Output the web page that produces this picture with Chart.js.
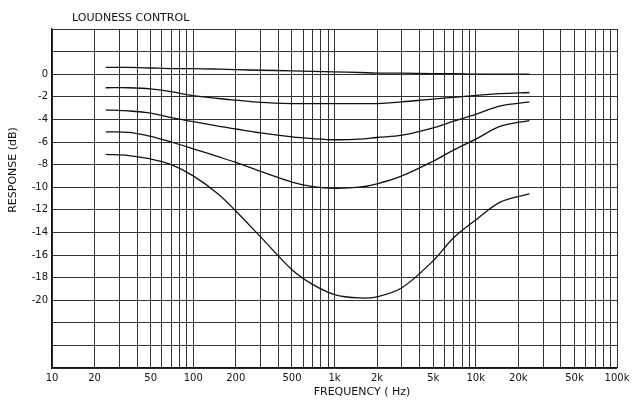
<!DOCTYPE html>
<html>
<head>
<meta charset="utf-8">
<script src="https://cdn.jsdelivr.net/npm/chart.js@4"></script>
<style>
  html, body { margin: 0; padding: 0; background: #fff; }
  #wrap { width: 637px; height: 401px; }
</style>
</head>
<body>
<div id="wrap"><canvas id="chLoud" width="637" height="401"></canvas></div>
<script>
// frequency points (Hz) shared by all curves
var freqs = [24, 35, 50, 70, 100, 150, 200, 300, 500, 700, 1000, 1500, 2000, 3000, 5000, 7000, 10000, 15000, 24000];

// response curves (dB), one per loudness setting
var curve0  = [0.6, 0.6, 0.55, 0.5, 0.5, 0.45, 0.4, 0.35, 0.3, 0.25, 0.2, 0.15, 0.1, 0.1, 0.05, 0.05, 0.0, 0.0, 0.0];
var curve2  = [-1.2, -1.2, -1.3, -1.55, -1.9, -2.15, -2.3, -2.5, -2.6, -2.6, -2.6, -2.6, -2.6, -2.45, -2.2, -2.05, -1.88, -1.72, -1.62];
var curve6  = [-3.15, -3.25, -3.45, -3.85, -4.2, -4.6, -4.85, -5.2, -5.55, -5.7, -5.8, -5.75, -5.6, -5.4, -4.75, -4.15, -3.55, -2.8, -2.45];
var curve10 = [-5.1, -5.15, -5.5, -6.0, -6.6, -7.3, -7.8, -8.6, -9.55, -9.95, -10.1, -10.0, -9.7, -9.0, -7.7, -6.7, -5.75, -4.6, -4.1];
var curve20 = [-7.1, -7.2, -7.5, -8.0, -9.0, -10.6, -12.1, -14.4, -17.3, -18.6, -19.5, -19.8, -19.7, -18.9, -16.5, -14.45, -12.9, -11.3, -10.6];

// tick labels
var xLabelVals = [10, 20, 50, 100, 200, 500, 1000, 2000, 5000, 10000, 20000, 50000, 100000];
var xLabels = ["10", "20", "50", "100", "200", "500", "1k", "2k", "5k", "10k", "20k", "50k", "100k"];
var yLabelVals = [0, -2, -4, -6, -8, -10, -12, -14, -16, -18, -20];

var tickFont = { family: "DejaVu Sans", size: 10 };

function toPoints(ys) {
  return freqs.map(function (f, i) { return { x: f, y: ys[i] }; });
}

// all 1..9 x decade grid lines
var xGrid = [];
for (var d = 10; d < 100000; d *= 10) {
  for (var m = 1; m < 10; m++) xGrid.push(m * d);
}
xGrid.push(100000);

var lineStyle = { borderColor: "#111", borderWidth: 1.3, pointRadius: 0, fill: false, tension: 0.35 };

var textPlugin = {
  id: "texts",
  afterDraw: function (chart) {
    var ctx = chart.ctx;
    ctx.save();
    ctx.fillStyle = "#111";
    ctx.font = "11px 'DejaVu Sans'";
    ctx.textBaseline = "middle";
    ctx.textAlign = "left";
    ctx.fillText("LOUDNESS CONTROL", 72, 18);
    ctx.textAlign = "center";
    ctx.fillText("FREQUENCY ( Hz)", 362, 392);
    ctx.translate(13, 170);
    ctx.rotate(-Math.PI / 2);
    ctx.fillText("RESPONSE (dB)", 0, 0);
    ctx.restore();
  }
};

new Chart(document.getElementById("chLoud"), {
  type: "line",
  data: {
    datasets: [
      Object.assign({ label: "0", data: toPoints(curve0) }, lineStyle),
      Object.assign({ label: "-2", data: toPoints(curve2) }, lineStyle),
      Object.assign({ label: "-6", data: toPoints(curve6) }, lineStyle),
      Object.assign({ label: "-10", data: toPoints(curve10) }, lineStyle),
      Object.assign({ label: "-20", data: toPoints(curve20) }, lineStyle)
    ]
  },
  options: {
    responsive: false,
    animation: false,
    layout: { padding: { top: 29, right: 20, left: 0, bottom: 0 } },
    plugins: { legend: { display: false }, tooltip: { enabled: false } },
    scales: {
      x: {
        type: "logarithmic",
        min: 10,
        max: 100000,
        afterBuildTicks: function (s) {
          s.ticks = xGrid.map(function (v) { return { value: v }; });
        },
        afterFit: function (s) { s.height = 33; },
        ticks: {
          autoSkip: false,
          maxRotation: 0,
          color: "#111",
          font: tickFont,
          padding: 4,
          callback: function (v) {
            var i = xLabelVals.indexOf(v);
            return i >= 0 ? xLabels[i] : "";
          }
        },
        grid: { color: "#333", lineWidth: 1, drawTicks: false },
        border: { color: "#111", width: 1.2 }
      },
      y: {
        min: -26,
        max: 4,
        afterBuildTicks: function (s) {
          var t = [];
          for (var v = 4; v >= -26; v -= 2) t.push({ value: v });
          s.ticks = t;
        },
        afterFit: function (s) { s.width = 52; },
        ticks: {
          autoSkip: false,
          color: "#111",
          font: tickFont,
          padding: 4,
          callback: function (v) {
            return yLabelVals.indexOf(v) >= 0 ? String(v) : "";
          }
        },
        grid: { color: "#333", lineWidth: 1, drawTicks: false },
        border: { color: "#111", width: 1.2 }
      }
    }
  },
  plugins: [textPlugin]
});
</script>
</body>
</html>
